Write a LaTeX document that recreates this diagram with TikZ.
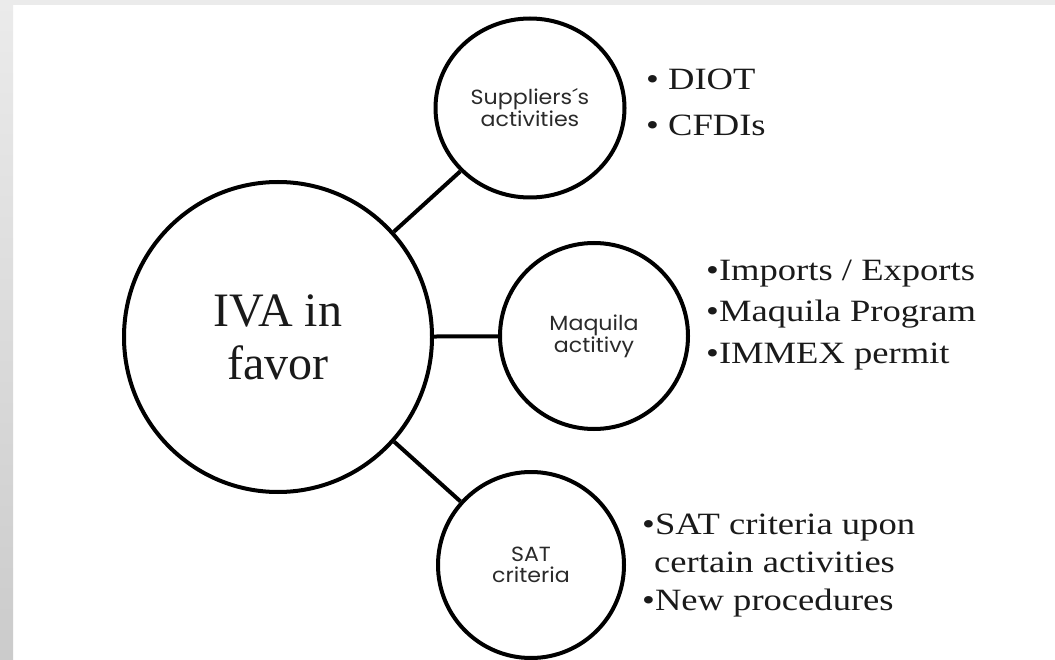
\documentclass[tikz,border=0pt]{standalone}
\usepackage{fontspec}
\usetikzlibrary{shapes.geometric}
\newfontfamily\bulfont[FakeStretch=1.18]{Liberation Serif}
\newfontfamily\mainserif{Liberation Serif}
\newfontfamily\labsans[FakeStretch=1.08]{Poppins}
\definecolor{frametop}{HTML}{EBEBEB}
\definecolor{framebot}{HTML}{CBCBCB}
\definecolor{ink}{HTML}{1A1A1A}
\definecolor{labink}{HTML}{2A2A2A}
\tikzset{
  bubble/.style={draw=black, line width=4pt, ellipse, inner sep=0pt, align=center, text=ink},
  link/.style={draw=black, line width=4pt},
  bul/.style={anchor=base west, inner sep=0pt, text=ink, font=\bulfont\fontsize{31pt}{37pt}\selectfont},
  lab/.style={text=labink, font=\labsans\fontsize{20.5pt}{20.5pt}\selectfont},
}
\begin{document}
\begin{tikzpicture}[x=1pt,y=-1pt]
\useasboundingbox (0,0) rectangle (1055,660);
\fill[white] (0,0) rectangle (1055,660);
\fill[frametop] (0,0) rectangle (1055,5);
\shade[top color=frametop, bottom color=framebot] (0,0) rectangle (13,660);

\node[bubble, minimum width=308pt, minimum height=310pt,
      font=\mainserif\fontsize{48pt}{53pt}\selectfont] (iva) at (278,337) {IVA in\\favor};
\node[bubble, lab, minimum width=189pt, minimum height=179pt] (sup) at (530,108) {Suppliers´s\\activities};
\node[bubble, lab, minimum width=188pt, minimum height=186pt] (maq) at (594,336) {Maquila\\actitivy};
\node[bubble, lab, minimum width=186pt, minimum height=186pt] (sat) at (531,565) {SAT\\criteria};

\draw[link] (iva) -- (sup);
\draw[link] (iva) -- (maq);
\draw[link] (iva) -- (sat);

\node[bul] (d1) at (646,90) {• DIOT};
\node[bul] (d2) at (646,136) {• CFDIs};

\node[bul] (m1) at (706,281) {•Imports / Exports};
\node[bul] (m2) at (706,322) {•Maquila Program};
\node[bul] (m3) at (706,363) {•IMMEX permit};

\node[bul] (s1) at (642,534) {•SAT criteria upon};
\node[bul] (s2) at (654,572) {certain activities};
\node[bul] (s3) at (642,610) {•New procedures};
\end{tikzpicture}
\end{document}
